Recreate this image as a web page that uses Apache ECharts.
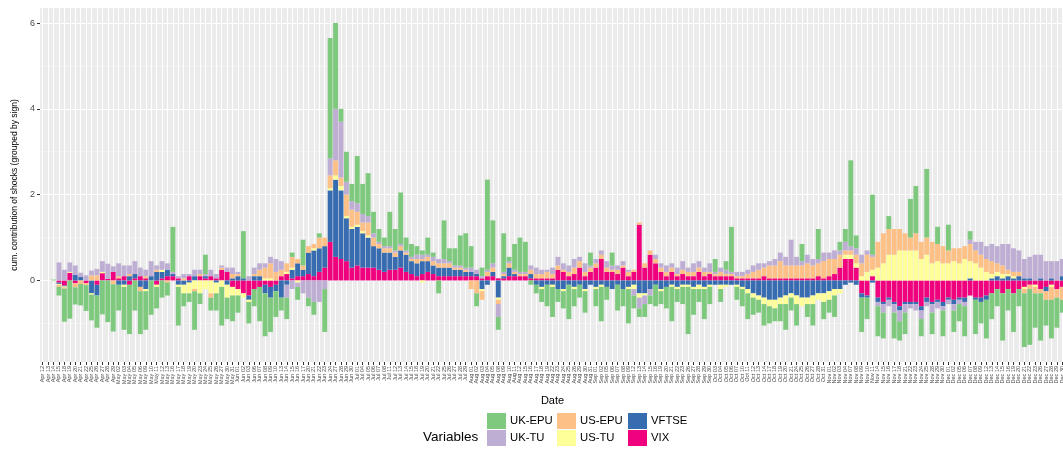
<!DOCTYPE html>
<html>
<head>
<meta charset="utf-8">
<script src="https://cdn.jsdelivr.net/npm/echarts@6/dist/echarts.min.js"></script>
<style>
html,body{margin:0;padding:0;background:#fff;}
#chart{width:1063px;height:454px;}
</style>
</head>
<body>
<div id="chart"></div>
<script>
const dates = [
"Apr 12","Apr 13","Apr 14","Apr 15","Apr 18","Apr 19","Apr 20","Apr 21","Apr 22","Apr 25","Apr 26","Apr 27","Apr 28","Apr 29",
"May 02","May 03","May 04","May 05","May 06","May 09","May 10","May 11","May 12","May 13","May 16","May 17","May 18","May 19","May 20","May 23","May 24","May 25","May 26","May 27","May 30","May 31",
"Jun 01","Jun 02","Jun 03","Jun 06","Jun 07","Jun 08","Jun 09","Jun 10","Jun 13","Jun 14","Jun 15","Jun 16","Jun 17","Jun 20","Jun 21","Jun 22","Jun 23","Jun 24","Jun 27","Jun 28","Jun 29","Jun 30",
"Jul 01","Jul 04","Jul 05","Jul 06","Jul 07","Jul 08","Jul 11","Jul 12","Jul 13","Jul 14","Jul 15","Jul 18","Jul 19","Jul 20","Jul 21","Jul 22","Jul 25","Jul 26","Jul 27","Jul 28","Jul 29",
"Aug 01","Aug 02","Aug 03","Aug 04","Aug 05","Aug 08","Aug 09","Aug 10","Aug 11","Aug 12","Aug 15","Aug 16","Aug 17","Aug 18","Aug 19","Aug 22","Aug 23","Aug 24","Aug 25","Aug 26","Aug 29","Aug 30","Aug 31",
"Sep 01","Sep 02","Sep 05","Sep 06","Sep 07","Sep 08","Sep 09","Sep 12","Sep 13","Sep 14","Sep 15","Sep 16","Sep 19","Sep 20","Sep 21","Sep 22","Sep 23","Sep 26","Sep 27","Sep 28","Sep 29","Sep 30",
"Oct 03","Oct 04","Oct 05","Oct 06","Oct 07","Oct 10","Oct 11","Oct 12","Oct 13","Oct 14","Oct 17","Oct 18","Oct 19","Oct 20","Oct 21","Oct 24","Oct 25","Oct 26","Oct 27","Oct 28","Oct 31",
"Nov 01","Nov 02","Nov 03","Nov 04","Nov 07","Nov 08","Nov 09","Nov 10","Nov 11","Nov 14","Nov 15","Nov 16","Nov 17","Nov 18","Nov 21","Nov 22","Nov 23","Nov 24","Nov 25","Nov 28","Nov 29","Nov 30",
"Dec 01","Dec 02","Dec 05","Dec 06","Dec 07","Dec 08","Dec 09","Dec 12","Dec 13","Dec 14","Dec 15","Dec 16","Dec 19","Dec 20","Dec 21","Dec 22","Dec 23","Dec 26","Dec 27","Dec 28","Dec 29","Dec 30"
];

const ukEpu = [
0,0,0.02,-0.2,-0.77,-0.89,-0.4,-0.5,-0.6,-0.6,
-0.75,-0.79,-0.97,-1.1,-0.6,-1.0,-1.15,-0.7,-1.0,-0.9,
-0.8,-0.5,-0.4,-0.3,1.05,-0.9,-0.3,-0.2,-0.9,-0.25,
0.45,-0.3,-0.4,-0.9,-0.5,-0.6,-0.4,1.1,-0.5,-0.4,
-0.8,-1.0,-0.8,-0.6,-0.3,-0.5,0.1,-0.3,0.6,-0.2,
-0.3,0.1,-1.0,2.8,2.0,0.3,0.7,0.4,1.1,0.7,
1.0,0.5,0.3,0.2,0.8,0.5,1.2,0.3,0.3,0.2,
0.1,0.4,0.1,-0.3,0.9,0.3,0.4,0.7,0.8,0.5,
-0.3,0.2,2.1,1.0,-0.3,0.9,0.1,0.6,0.8,0.7,
-0.1,-0.2,-0.3,-0.5,-0.7,-0.3,-0.4,-0.8,-0.4,-0.3,
-0.5,0.3,-0.4,-0.8,-0.3,0.3,-0.6,-0.4,-0.8,-0.3,
-0.2,-0.3,-0.2,-0.5,-0.3,-0.5,-0.8,-0.3,-0.4,-1.1,
-0.6,-0.3,-0.7,-0.4,0.3,-0.3,0.2,1.05,-0.3,-0.4,
-0.6,-0.4,-0.3,-0.5,-0.4,-0.3,-0.4,-0.6,-0.3,-0.5,
0.4,-0.3,-0.5,0.7,-0.4,-0.3,-0.5,0.2,0.3,2.0,
0.3,-0.8,-0.5,1.4,-0.7,-0.6,0.3,-0.6,-0.45,-0.5,
0.9,1.1,-0.4,1.6,-0.5,0.4,-0.6,0.6,-0.5,-0.4,
-0.7,0.2,-0.8,-0.5,-0.9,-0.6,-0.4,-1.1,-0.5,-0.9,
-0.4,-1.25,-1.3,-0.8,-1.1,-0.6,-0.9,-0.7,-0.3
];
const ukTu = [
0,0,0,0.42,0.25,0.22,0.22,0.1,0.12,0.11,
0.15,0.25,0.35,0.13,0.3,0.25,0.2,0.3,0.2,0.15,
0.35,0.1,0.2,0.15,0.05,0.05,0.1,0.05,0.15,0.1,
0.05,0.15,0.1,0.05,0.1,0.15,0.05,0,0.1,0.15,
0.15,0.1,0.15,0.3,0.2,-0.3,-0.2,-0.1,-0.3,-0.4,
-0.5,-0.5,-0.2,0.4,1.2,1.3,0.3,0.2,0.2,0.2,
0.15,0.1,0.05,0.05,0.05,0.05,0.05,0.05,0.05,0.1,
0.1,0.05,0.1,0.1,0.1,0.05,0.05,0.05,0.05,0.1,
0.1,0.05,0.05,0.1,-0.3,0.05,0.05,0.05,0.05,0.05,
0.1,0.15,0.1,0.05,0.15,0.2,0.15,0.15,0.2,0.1,
0.2,0.05,0.1,0.1,0.15,0.1,0.1,0.1,0.05,-0.15,
-0.25,-0.2,-0.15,0.1,0.1,0.15,0.1,0.15,0.2,0.1,
0.2,0.15,0.1,0.2,0.05,0.1,0.1,0.05,0.1,0.1,
0.1,0.15,0.15,0.1,0.1,0.15,0.2,0.2,0.6,0.2,
0.1,0.2,0.15,0.1,0.2,0.15,0.2,0.1,0.2,0.1,
0.15,0.2,0.1,0.05,-0.1,-0.2,-0.15,-0.2,-0.25,-0.2,
-0.1,-0.15,-0.2,-0.1,-0.2,-0.15,-0.1,-0.1,-0.15,-0.1,
-0.1,0.1,0.2,0.3,0.3,0.4,0.4,0.5,0.6,0.55,
0.5,0.45,0.5,0.6,0.55,0.45,0.4,0.45,0.4
];
const usEpu = [
0,0,0,-0.05,-0.03,0,-0.1,-0.08,-0.05,0.12,
0.12,0,0,-0.09,0.05,0,0.05,0,-0.1,0.05,
0,0.05,0,-0.05,0,0,0.05,0,-0.05,0.05,
0,-0.1,0,0.05,0,0.1,0.05,0,0,0.05,
0.15,0.25,0.35,0.2,0.15,0.2,0.25,0.1,0.1,0.15,
0.1,0.25,0.2,0.3,0.35,0.2,0.5,0.4,0.3,0.2,
0.3,0.2,0.1,0.1,0.1,0.1,0.1,0.05,0.05,0.1,
0.05,0.1,0.1,0.1,0.1,0.1,0.05,0.05,0.05,-0.2,
-0.3,-0.2,0.1,0.1,-0.1,0.05,0.1,0.05,0.05,0.05,
0.1,0.1,0.1,0.15,0.1,0.1,0.05,0.1,0.15,0.15,
0.1,0.1,0.1,0.1,0.1,0.05,0.1,0.05,0.1,0.05,
0.05,0.1,0.1,0.1,0.1,0.1,0.1,0.05,0.1,0.1,
0.1,0.1,0.1,0.05,0.05,0.1,0.05,0.05,0.05,0.05,
0.1,0.15,0.2,0.2,0.3,0.3,0.4,0.3,0.3,0.3,
0.3,0.35,0.3,0.3,0.4,0.4,0.35,0.3,0.1,0.1,
0.2,0.3,0.4,0.3,0.6,0.7,0.6,0.6,0.5,0.4,
0.3,0.4,0.4,0.4,0.5,0.4,0.4,0.3,0.3,0.35,
0.3,0.4,0.3,0.3,0.3,0.3,0.2,0.2,0.1,0.1,
0.1,-0.1,-0.1,-0.15,-0.1,-0.2,-0.3,-0.2,-0.3
];
const usTu = [
0,0,0,-0.02,-0.02,0.02,0,0,0,-0.03,
0,0.03,0,0,0,-0.05,0,0,0,-0.05,
0,-0.05,0.05,0,0,-0.05,-0.2,-0.25,-0.2,-0.3,
-0.2,-0.3,-0.25,-0.15,-0.3,-0.2,-0.15,-0.1,-0.05,0,
0,0.05,0.05,0,0,0.05,0.05,-0.05,0,0,
0.05,0,0,0.05,0.1,0.1,0.05,0.05,0.05,0.05,
0.05,0,0,0,0,0,0,0,0,0,
-0.05,0,0,0,0,0,0,0,0,0,
0,-0.05,0,0,-0.05,0,0,0,0,0,
0,0,-0.05,0,-0.05,0,-0.05,0,-0.05,0,
-0.05,0,-0.05,-0.05,0,0,0,0,-0.05,-0.1,
-0.1,-0.05,0,0,-0.05,0,-0.05,-0.05,-0.05,-0.05,
-0.05,-0.1,-0.05,-0.05,0,-0.1,-0.05,0,-0.05,-0.05,
-0.1,-0.1,-0.1,-0.15,-0.15,-0.2,-0.15,-0.2,-0.1,-0.2,
-0.2,-0.15,-0.2,-0.15,-0.2,-0.2,-0.15,-0.1,0.1,0.1,
0.1,0.1,0.2,0.15,0.3,0.4,0.6,0.6,0.7,0.7,
0.7,0.7,0.5,0.6,0.4,0.45,0.4,0.4,0.45,0.4,
0.5,0.4,0.4,0.3,0.2,0.1,0.1,0.1,0.05,0.05,
0,-0.05,0,-0.05,0,0,-0.05,0,0
];
const vftse = [
0,0,0,-0.03,-0.02,0,0.13,0.08,0,-0.3,
-0.25,0,0,0,-0.1,-0.1,0.1,0.1,-0.15,-0.2,
0.1,0.2,0.15,0.15,0.05,-0.1,-0.1,-0.05,0.1,0,
0.05,0,-0.05,0,-0.1,0.05,0.1,0.05,-0.1,0.1,
0.1,-0.2,-0.25,-0.15,-0.4,-0.1,0.2,0.3,0.15,0.5,
0.6,0.55,0.5,1.2,1.8,1.6,1.0,0.9,0.9,0.8,
0.7,0.5,0.5,0.45,0.4,0.3,0.4,0.4,0.3,0.3,
0.3,0.25,0.2,0.2,0.2,0.2,0.15,0.15,0.1,0.1,
0.05,-0.2,-0.1,0.1,-0.4,0.05,0.2,0.05,0,0,
0.1,-0.1,-0.15,-0.1,-0.1,-0.2,-0.2,-0.1,-0.15,-0.1,
-0.2,-0.1,-0.15,-0.1,-0.15,-0.2,-0.1,-0.2,-0.15,-0.1,
-0.3,-0.3,-0.2,-0.1,-0.2,-0.15,-0.1,-0.15,-0.1,-0.1,
-0.15,-0.1,-0.15,-0.1,-0.1,-0.1,-0.1,-0.1,-0.1,-0.15,
-0.2,-0.3,-0.35,-0.4,-0.45,-0.45,-0.4,-0.35,-0.3,-0.35,
-0.4,-0.4,-0.35,-0.3,-0.3,-0.25,-0.2,-0.2,-0.1,-0.05,
-0.1,-0.1,-0.05,-0.05,-0.1,-0.05,-0.05,-0.05,-0.1,-0.05,
-0.05,-0.05,-0.1,-0.1,-0.05,-0.05,-0.1,-0.05,-0.1,-0.05,
-0.1,0.05,-0.05,-0.1,-0.1,0.05,0.1,0.05,0.1,0.05,
0.1,0.05,0.05,0,0.05,-0.1,0.05,0,0.1
];
const vix = [
0,0,0,-0.05,-0.12,0.18,-0.06,0,-0.06,0,
-0.1,0.17,0.04,0.2,0.05,0.1,-0.1,0.05,0.1,0.05,
0,-0.1,0.05,0.1,0.1,0.05,0,0.1,0,0.1,
0.05,0.1,0.05,0.25,0.2,-0.15,-0.2,-0.3,-0.35,-0.2,
-0.15,-0.1,-0.15,-0.1,0.1,0.15,0.05,0.1,0.1,0.15,
0.1,0.2,0.3,0.9,0.55,0.5,0.45,0.3,0.35,0.3,
0.3,0.3,0.25,0.2,0.25,0.25,0.3,0.2,0.15,0.1,
0.15,0.2,0.15,0.1,0.1,0.1,0.1,0.1,0.1,0.1,
0.1,0.05,0.1,0.1,0.05,0.05,0.1,0.1,0.1,0.1,
0.05,0.05,0.05,0.05,0.05,0.25,0.2,0.1,0.15,0.3,
0.1,0.2,0.3,0.5,0.2,0.2,0.15,0.3,0.1,0.2,
1.3,0.3,0.6,0.4,0.2,0.1,0.2,0.1,0.15,0.1,
0.1,0.2,0.1,0.15,0.1,0.1,0.1,0.1,0.05,0.05,
0.05,0.05,0.05,0.1,0.05,0.05,0.05,0.05,0.05,0.05,
0.05,0.05,0.05,0.1,0.05,0.1,0.15,0.3,0.5,0.5,
0.3,-0.3,-0.35,0.1,-0.4,-0.5,-0.4,-0.5,-0.6,-0.5,
-0.5,-0.5,-0.6,-0.4,-0.5,-0.45,-0.5,-0.4,-0.45,-0.4,
-0.4,-0.35,-0.4,-0.4,-0.35,-0.3,-0.2,-0.3,-0.2,-0.3,
-0.2,-0.15,-0.1,-0.1,-0.2,-0.15,-0.1,-0.2,-0.15
];

const seriesNames = ["UK-EPU","UK-TU","US-EPU","US-TU","VFTSE","VIX"];
const seriesColors = ["#7FC97F","#BEAED4","#FDC086","#FFFF99","#386CB0","#F0027F"];
const seriesData = [ukEpu, ukTu, usEpu, usTu, vftse, vix];
const yLabels = [0, 2, 4, 6];
const yMinor = [-1, 1, 3, 5];

const chart = echarts.init(document.getElementById('chart'), null, {renderer: 'canvas'});

// stack order from zero outward: VIX, VFTSE, US-TU, US-EPU, UK-TU, UK-EPU
const order = [5, 4, 3, 2, 1, 0];
const series = order.map(function (k) {
  return {
    name: seriesNames[k],
    type: 'bar',
    stack: 'total',
    data: seriesData[k],
    barCategoryGap: '10%',
    itemStyle: {color: seriesColors[k], borderWidth: 0},
    emphasis: {disabled: true},
    xAxisIndex: 0,
    yAxisIndex: 0
  };
});

const legendCommon = {
  orient: 'vertical',
  top: 413,
  itemWidth: 19,
  itemHeight: 16,
  itemGap: 1,
  icon: 'rect',
  selectedMode: false,
  padding: 0,
  textStyle: {fontSize: 11.3, color: '#000', fontFamily: 'Liberation Sans, Arial, sans-serif', padding: [0, 0, 0, -1]}
};

chart.setOption({
  backgroundColor: '#ffffff',
  animation: false,
  textStyle: {fontFamily: 'Liberation Sans, Arial, sans-serif'},
  grid: {
    left: 40, top: 8, width: 1025, height: 354,
    show: true, backgroundColor: '#EBEBEB', borderWidth: 0,
    containLabel: false, outerBoundsMode: 'none'
  },
  legend: [
    Object.assign({left: 487, data: ["UK-EPU","UK-TU"]}, legendCommon),
    Object.assign({left: 557, data: ["US-EPU","US-TU"]}, legendCommon),
    Object.assign({left: 628, data: ["VFTSE","VIX"]}, legendCommon)
  ],
  graphic: [{
    type: 'text', left: 423, top: 430,
    style: {text: 'Variables', fontSize: 13.5, fill: '#000', fontFamily: 'Liberation Sans, Arial, sans-serif'}
  }],
  xAxis: {
    type: 'category',
    data: dates,
    boundaryGap: true,
    name: 'Date',
    nameLocation: 'middle',
    nameGap: 33,
    nameTextStyle: {fontSize: 11, color: '#000'},
    axisLine: {show: false, onZero: false},
    axisTick: {show: true, alignWithLabel: true, interval: 0, length: 3, lineStyle: {color: '#333333', width: 1}},
    axisLabel: {interval: 0, rotate: 90, fontSize: 5.5, color: '#4D4D4D', margin: 4},
    splitLine: {show: true, alignWithLabel: true, interval: 0, lineStyle: {color: '#ffffff', width: 1}}
  },
  yAxis: [{
    type: 'value',
    min: -1.9, max: 6.35,
    name: 'cum. contribution of shocks (grouped by sign)',
    nameLocation: 'middle',
    nameGap: 20,
    nameTextStyle: {fontSize: 8.5, color: '#000'},
    axisLine: {show: false},
    axisTick: {show: true, length: 3, customValues: yLabels, lineStyle: {color: '#333333', width: 1}},
    axisLabel: {customValues: yLabels, fontSize: 9, color: '#4D4D4D', margin: 5},
    splitLine: {show: true, lineStyle: {color: '#ffffff', width: 1.1}}
  }, {
    type: 'value',
    min: -1.9, max: 6.35,
    position: 'left',
    axisLine: {show: false},
    axisTick: {show: false, customValues: yMinor},
    axisLabel: {show: false, customValues: yMinor},
    splitLine: {show: true, lineStyle: {color: '#F5F5F5', width: 0.6}}
  }],
  series: series
});
</script>
</body>
</html>
